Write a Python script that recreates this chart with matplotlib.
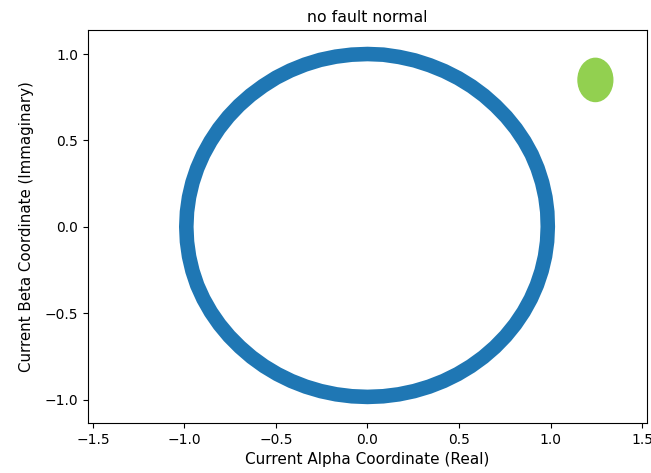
import matplotlib
matplotlib.use('Agg')
import matplotlib.pyplot as plt
from matplotlib.patches import Ellipse, Polygon
import numpy as np

# ring readings: angle (deg) and radius of the band centre
angle_deg = list(range(0, 360, 5))
radius = [0.985, 0.986, 0.987, 0.988, 0.989, 0.99, 0.99, 0.99, 0.99, 0.99, 0.991, 0.992,
          0.993, 0.994, 0.995, 0.997, 0.998, 1.0, 1.0, 1.0, 1.0, 1.0, 0.999, 0.998,
          0.997, 0.995, 0.994, 0.993, 0.992, 0.991, 0.99, 0.99, 0.99, 0.99, 0.99, 0.99,
          0.99, 0.99, 0.99, 0.99, 0.99, 0.989, 0.988, 0.987, 0.986, 0.985, 0.985, 0.985,
          0.985, 0.985, 0.985, 0.985, 0.985, 0.985, 0.985, 0.985, 0.985, 0.985, 0.985, 0.985,
          0.985, 0.985, 0.985, 0.985, 0.985, 0.985, 0.985, 0.985, 0.985, 0.985, 0.985, 0.985]

# green marker (ellipse)
blob_center = (1.245, 0.85)
blob_width = 0.19
blob_height = 0.25

th = np.radians(angle_deg)
r = np.array(radius)
xy = np.column_stack([r * np.cos(th), r * np.sin(th)])

plt.rcParams['font.family'] = 'DejaVu Sans'
fig = plt.figure(figsize=(6.51, 4.73), dpi=100)
ax = fig.add_axes([88/651, 50/473, 559/651, 393/473])

ax.add_patch(Polygon(xy, closed=True, fill=False, edgecolor='#1f77b4', lw=10.5, joinstyle='round'))
ax.add_patch(Ellipse(blob_center, blob_width, blob_height, color='#92d050'))

ax.set_xlim(-1.527, 1.527)
ax.set_ylim(-1.136, 1.139)
ax.set_xticks([-1.5, -1.0, -0.5, 0.0, 0.5, 1.0, 1.5])
ax.set_yticks([-1.0, -0.5, 0.0, 0.5, 1.0])
ax.tick_params(labelsize=10)
ax.set_title('no fault normal', fontsize=11.3)
ax.set_xlabel('Current Alpha Coordinate (Real)', fontsize=11)
ax.set_ylabel('Current Beta Coordinate (Immaginary)', fontsize=10.8, labelpad=8)

fig.savefig('out.png', dpi=100)
